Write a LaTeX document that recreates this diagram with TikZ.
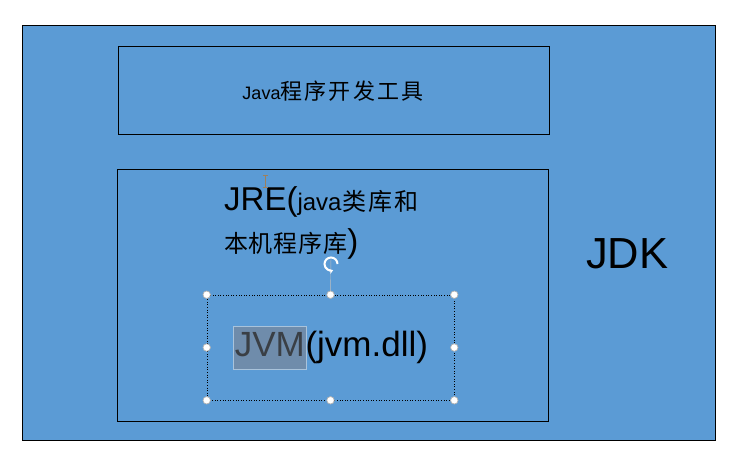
\documentclass[tikz,border=0pt]{standalone}
\usepackage{fontspec}
\setmainfont{Liberation Sans}
\newfontfamily\cjk{Noto Sans CJK SC}
\usetikzlibrary{arrows.meta}
\definecolor{jblue}{HTML}{5B9BD5}
\definecolor{hlfill}{HTML}{6F8CAB}
\definecolor{hlborder}{HTML}{A9C3DB}
\definecolor{jvmtext}{HTML}{3A3F45}
\definecolor{cursorc}{HTML}{A0805A}
\begin{document}
\begin{tikzpicture}[x=1pt,y=-1pt,
  box/.style={draw=black, line width=1pt, fill=jblue, inner sep=0, anchor=center},
  selbox/.style={draw=black, line width=0.6pt, dotted, inner sep=0},
  handle/.style={circle, draw=gray!60, fill=white, inner sep=0, minimum size=7.5pt, line width=0.7pt},
  txt/.style={inner sep=0, text=black},
  hl/.style={fill=hlfill, draw=hlborder, line width=0.8pt, inner xsep=1.5pt, inner ysep=0pt, text height=30pt, text depth=13pt, text=jvmtext}
]
\useasboundingbox (0,0) rectangle (741,450);
\fill[white] (0,0) rectangle (741,450);

% outer JDK box
\node[box, minimum width=693pt, minimum height=415pt] (jdk) at (368.5,232.5) {};
\node[txt, anchor=base west, font=\fontsize{43.5}{43.5}\selectfont] (jdklabel) at (586,268) {JDK};

% tools box
\node[box, minimum width=431pt, minimum height=88pt] (tools) at (333.5,90) {};
\node[txt, anchor=base] (toolslabel) at (333,99) {{\fontsize{18}{18}\selectfont Java}{\cjk\fontsize{22}{22}\selectfont 程\kern2.2pt 序\kern2.2pt 开\kern2.2pt 发\kern2.2pt 工\kern2.2pt 具}};

% JRE box
\node[box, minimum width=431pt, minimum height=252pt] (jre) at (332.5,295) {};
\node[txt, anchor=base west] (jreA) at (224,210) {{\fontsize{33}{33}\selectfont JRE(}{\fontsize{24}{24}\selectfont java}{\cjk\fontsize{24}{24}\selectfont \kern1pt 类\kern2pt 库\kern2pt 和}};
\node[txt, anchor=base west] (jreB) at (224,252) {{\cjk\fontsize{24}{24}\selectfont 本\kern0.8pt 机\kern0.8pt 程\kern0.8pt 序\kern0.8pt 库}{\fontsize{33}{33}\selectfont )}};

% I-beam cursor
\coordinate (cur) at (265,181);
\draw[cursorc, line width=0.8pt] ([yshift=-6]cur) -- ([yshift=6]cur)
  ([xshift=-2.5,yshift=-6]cur) -- ([xshift=2.5,yshift=-6]cur)
  ([xshift=-2.5,yshift=6]cur) -- ([xshift=2.5,yshift=6]cur);

% selected JVM text box
\node[selbox, minimum width=247pt, minimum height=105pt] (sel) at (330.5,347.5) {};
\node[hl, anchor=base west, font=\fontsize{35}{35}\selectfont] (jvm) at (233,356) {JVM};
\node[txt, anchor=base west, font=\fontsize{35}{35}\selectfont] (dll) at ([xshift=-1.5pt]jvm.base east) {(jvm.dll)};

% rotation handle
\coordinate (rot) at (331,264);
\draw[gray!50, line width=0.4pt] (sel.north) -- ([yshift=8]rot);
\draw[white, line width=2pt, -{Stealth[length=4pt,width=5pt]}] ([xshift=6.5]rot) arc[start angle=0, end angle=290, radius=6.5pt];

% handles
\foreach \a in {north west,north,north east,west,east,south west,south,south east}
  \node[handle] at (sel.\a) {};
\end{tikzpicture}
\end{document}
